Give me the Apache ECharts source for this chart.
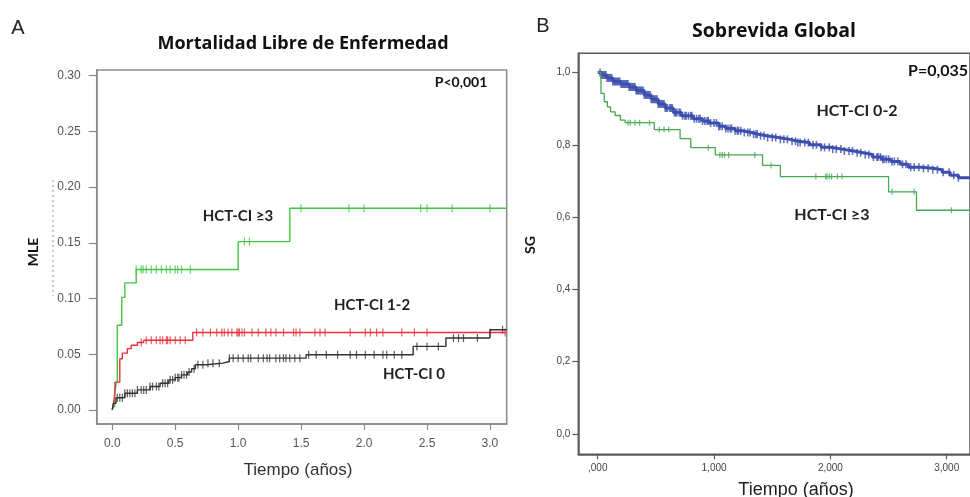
<!DOCTYPE html>
<html>
<head>
<meta charset="utf-8">
<script src="https://cdn.jsdelivr.net/npm/echarts@6/dist/echarts.min.js"></script>
<style>
	html, body { margin: 0; padding: 0; background: #fff; }
	#chart { width: 970px; height: 497px; }
</style>
</head>
<body>
<div id="chart"></div>
<script>
	// A: Mortalidad libre de enfermedad, escalones [tiempo, MLE]
	var mleGrave = [[0,0.003],[0.02,0.025],[0.04,0.076],[0.075,0.101],[0.1,0.114],[0.19,0.126],[1.0,0.151],[1.41,0.181],[3.133,0.181]];
	var mleMedio = [[0,0],[0.015,0.01],[0.03,0.025],[0.06,0.046],[0.08,0.051],[0.12,0.055],[0.15,0.058],[0.2,0.0605],[0.25,0.0625],[0.64,0.0695],[3.133,0.0695]];
	var mleCero = [[0,0],[0.01,0.006],[0.03,0.011],[0.1,0.015],[0.2,0.018],[0.3,0.021],[0.38,0.024],[0.45,0.027],[0.5,0.029],[0.55,0.0315],[0.6,0.034],[0.63,0.037],[0.66,0.0405],[0.75,0.042],[0.88,0.0435],[0.93,0.0465],[1.54,0.0495],[2.39,0.057],[2.65,0.0645],[3.0,0.072],[3.133,0.072]];

	// censuras (tiempos)
	var censGrave = [0.19,0.23,0.245,0.27,0.31,0.35,0.39,0.43,0.46,0.50,0.52,0.55,0.62,1.05,1.09,1.50,1.88,2.0,2.45,2.50,2.70,3.0];
	var censMedio = [0.23,0.27,0.31,0.35,0.38,0.40,0.43,0.44,0.46,0.50,0.54,0.58,0.67,0.72,0.78,0.83,0.87,0.89,0.92,0.95,0.99,1.0,1.01,1.03,1.05,1.11,1.16,1.22,1.26,1.30,1.36,1.44,1.46,1.49,1.61,1.65,1.69,1.89,2.01,2.05,2.10,2.15,2.30,2.40,2.50,3.0,3.12];
	var censCero = [0.04,0.06,0.08,0.1,0.12,0.14,0.16,0.18,0.2,0.23,0.25,0.27,0.3,0.32,0.35,0.37,0.4,0.42,0.44,0.46,0.48,0.5,0.52,0.53,0.55,0.57,0.59,0.61,0.65,0.68,0.72,0.76,0.8,0.85,0.93,0.96,1.0,1.04,1.08,1.1,1.16,1.2,1.23,1.25,1.3,1.33,1.36,1.38,1.41,1.45,1.49,1.56,1.62,1.70,1.79,1.89,1.94,2.01,2.08,2.15,2.18,2.24,2.30,2.42,2.50,2.59,2.71,2.75,2.79,2.90,3.1];

	// B: Sobrevida global, escalones [tiempo, SG]
	var sgBajo = [[0,1.0],[0.03,0.993],[0.08,0.985],[0.13,0.975],[0.2,0.968],[0.27,0.960],[0.33,0.950],[0.40,0.938],[0.46,0.926],[0.52,0.913],[0.58,0.902],[0.65,0.889],[0.72,0.880],[0.82,0.872],[0.9,0.866],[0.96,0.860],[1.04,0.851],[1.1,0.845],[1.18,0.839],[1.24,0.834],[1.32,0.829],[1.38,0.825],[1.45,0.820],[1.55,0.815],[1.65,0.810],[1.72,0.806],[1.82,0.800],[1.92,0.793],[2.0,0.788],[2.1,0.783],[2.2,0.778],[2.28,0.773],[2.36,0.766],[2.44,0.760],[2.52,0.754],[2.6,0.746],[2.67,0.738],[2.78,0.735],[2.88,0.731],[2.96,0.724],[3.03,0.716],[3.1,0.709],[3.2,0.709]];
	var sgAlto = [[0,1.0],[0.028,0.942],[0.056,0.919],[0.083,0.905],[0.11,0.891],[0.15,0.881],[0.195,0.868],[0.236,0.861],[0.486,0.842],[0.708,0.817],[0.8,0.792],[1.01,0.772],[1.417,0.743],[1.57,0.712],[2.5,0.670],[2.74,0.619],[3.2,0.619]];

	var censBajo = [0.02,0.03,0.04,0.05,0.06,0.07,0.08,0.09,0.1,0.11,0.12,0.13,0.14,0.15,0.16,0.17,0.18,0.19,0.2,0.21,0.22,0.23,0.24,0.25,0.26,0.27,0.28,0.29,0.3,0.31,0.32,0.33,0.34,0.35,0.36,0.37,0.38,0.39,0.4,0.41,0.42,0.43,0.44,0.45,0.46,0.47,0.48,0.49,0.5,0.51,0.52,0.53,0.54,0.55,0.56,0.57,0.58,0.59,0.6,0.62,0.63,0.64,0.66,0.67,0.68,0.7,0.71,0.73,0.75,0.76,0.78,0.8,0.81,0.83,0.85,0.87,0.88,0.9,0.92,0.94,0.95,0.97,1.0,1.02,1.04,1.05,1.07,1.1,1.12,1.14,1.15,1.18,1.2,1.21,1.23,1.26,1.29,1.31,1.34,1.36,1.37,1.4,1.43,1.46,1.5,1.53,1.57,1.6,1.63,1.67,1.7,1.72,1.74,1.78,1.81,1.85,1.88,1.92,1.95,1.99,2.02,2.05,2.09,2.12,2.16,2.19,2.23,2.26,2.3,2.33,2.37,2.4,2.41,2.43,2.45,2.46,2.48,2.5,2.53,2.55,2.58,2.62,2.65,2.69,2.72,2.76,2.8,2.84,2.88,2.92,2.97,3.02,3.06,3.1];
	var censAlto = [0.26,0.28,0.32,0.36,0.445,0.53,0.57,0.61,0.95,1.05,1.07,1.09,1.125,1.35,1.49,1.875,1.96,1.97,1.99,2.01,2.06,2.1,2.53,2.72,3.04];

	// ticks
	var ticksXA = [0, 0.5, 1, 1.5, 2, 2.5, 3];
	var ticksYA = [0, 0.05, 0.1, 0.15, 0.2, 0.25, 0.3];
	var ticksXB = [0, 1, 2, 3];
	var ticksYB = [0, 0.2, 0.4, 0.6, 0.8, 1.0];

	// valor de la curva en el tiempo de censura
	function valorEn(pasos, t) {
		var v = pasos[0][1];
		for (var i = 0; i < pasos.length; i++) {
			if (pasos[i][0] <= t) v = pasos[i][1];
		}
		return v;
	}

	function censuras(pasos, tiempos) {
		return tiempos.map(function (t) { return [t, valorEn(pasos, t)]; });
	}

	function curva(nombre, pasos, color, ancho, idx) {
		return {
			name: nombre, type: 'line', step: 'end', xAxisIndex: idx, yAxisIndex: idx,
			showSymbol: false, symbol: 'none', data: pasos,
			lineStyle: { color: color, width: ancho }
		};
	}

	function marcas(nombre, pasos, tiempos, color, tam, idx) {
		return {
			name: nombre, type: 'scatter', xAxisIndex: idx, yAxisIndex: idx,
			symbol: 'rect', symbolSize: tam, data: censuras(pasos, tiempos),
			itemStyle: { color: color }
		};
	}

	function texto(x, y, txt, font, color, rot) {
		return {
			type: 'text', x: x, y: y, rotation: rot || 0,
			style: {
				text: txt, font: font, fill: color,
				align: 'center', verticalAlign: 'middle',
				textAlign: 'center', textVerticalAlign: 'middle'
			}
		};
	}

	// ejes sin onZero, ticks fijos
	function eje(grid, min, max, ticks, gris, largo, margen, tam, fmt) {
		return {
			type: 'value', gridIndex: grid, min: min, max: max,
			axisLine: { show: true, onZero: false, lineStyle: { color: gris, width: 1.5 } },
			axisTick: { show: true, customValues: ticks, length: largo, lineStyle: { color: gris, width: 1.2 } },
			axisLabel: {
				customValues: ticks, margin: margen, color: grid === 0 ? '#555' : '#444', fontSize: tam,
				fontFamily: '"Liberation Sans", Arial, sans-serif', formatter: fmt
			},
			splitLine: { show: false }
		};
	}

	var verde = '#45c545', rojo = '#e8323c', negro = '#333333';
	var azul = '#3d4fae', verdeB = '#46a852';
	var fBold = 'bold 15px Lato, "Open Sans", sans-serif';
	var fBoldB = 'bold 16px Lato, "Open Sans", sans-serif';

	var myEchart = echarts.init(document.getElementById('chart'));

	var option = {
		animation: false,
		grid: [
			{ left: 96.7, top: 70, width: 410, height: 354, show: true, borderColor: '#8a8a8a', borderWidth: 1.5 },
			{ left: 578.3, top: 53.3, width: 404, height: 401, show: true, borderColor: '#5a5a5a', borderWidth: 1.5 }
		],
		xAxis: [
			eje(0, -0.1235, 3.133, ticksXA, '#8a8a8a', 6, 14, 12, function (v) { return v.toFixed(1); }),
			eje(1, -0.167, 3.2, ticksXB, '#5a5a5a', 5, 9, 10, function (v) { return (v === 0 ? '' : v) + ',000'; })
		],
		yAxis: [
			eje(0, -0.0126, 0.305, ticksYA, '#8a8a8a', 8, 16, 12, function (v) { return v.toFixed(2); }),
			eje(1, -0.056, 1.053, ticksYB, '#5a5a5a', 6, 8, 10, function (v) { return v.toFixed(1).replace('.', ','); })
		],
		series: [
			curva('HCT-CI ≥3', mleGrave, verde, 1.4, 0),
			curva('HCT-CI 1-2', mleMedio, rojo, 1.4, 0),
			curva('HCT-CI 0', mleCero, negro, 1.4, 0),
			marcas('c ≥3', mleGrave, censGrave, verde, [1.2, 8], 0),
			marcas('c 1-2', mleMedio, censMedio, rojo, [1.2, 8], 0),
			marcas('c 0', mleCero, censCero, negro, [1.2, 8], 0),
			curva('HCT-CI 0-2', sgBajo, azul, 3, 1),
			curva('HCT-CI ≥3 B', sgAlto, verdeB, 1.3, 1),
			marcas('c 0-2', sgBajo, censBajo, azul, [1.6, 8], 1),
			marcas('c ≥3 B', sgAlto, censAlto, verdeB, [1.2, 6], 1)
		],
		graphic: [
			texto(18, 28, 'A', '20px "Liberation Sans", Arial, sans-serif', '#222'),
			texto(543, 26, 'B', '20px "Liberation Sans", Arial, sans-serif', '#222'),
			texto(303, 44, 'Mortalidad Libre de Enfermedad', 'bold 18px "Open Sans", Lato, sans-serif', '#111'),
			texto(774, 31, 'Sobrevida Global', 'bold 19.5px "Open Sans", Lato, sans-serif', '#111'),
			texto(461, 82, 'P<0,001', 'bold 14px Lato, "Open Sans", sans-serif', '#111'),
			texto(938, 71, 'P=0,035', 'bold 16px Lato, "Open Sans", sans-serif', '#111'),
			texto(238, 216, 'HCT-CI ≥3', fBold, '#222'),
			texto(372, 305, 'HCT-CI 1-2', fBold, '#222'),
			texto(414, 374, 'HCT-CI 0', fBold, '#222'),
			texto(857, 111, 'HCT-CI 0-2', fBoldB, '#222'),
			texto(832, 215, 'HCT-CI ≥3', fBoldB, '#222'),
			texto(33, 252, 'MLE', 'bold 14px Lato, "Open Sans", sans-serif', '#111', Math.PI / 2),
			texto(530, 245, 'SG', 'bold 14px Lato, "Open Sans", sans-serif', '#111', Math.PI / 2),
			texto(298, 470, 'Tiempo (años)', '17px "Liberation Sans", Arial, sans-serif', '#333'),
			texto(796, 490, 'Tiempo (años)', '18px "Liberation Sans", Arial, sans-serif', '#222'),
			{
				type: 'line', shape: { x1: 53, y1: 180, x2: 53, y2: 296 },
				style: { stroke: '#8a9ab8', lineWidth: 1, lineDash: [2, 3] }
			}
		]
	};

	myEchart.setOption(option);
</script>
</body>
</html>
